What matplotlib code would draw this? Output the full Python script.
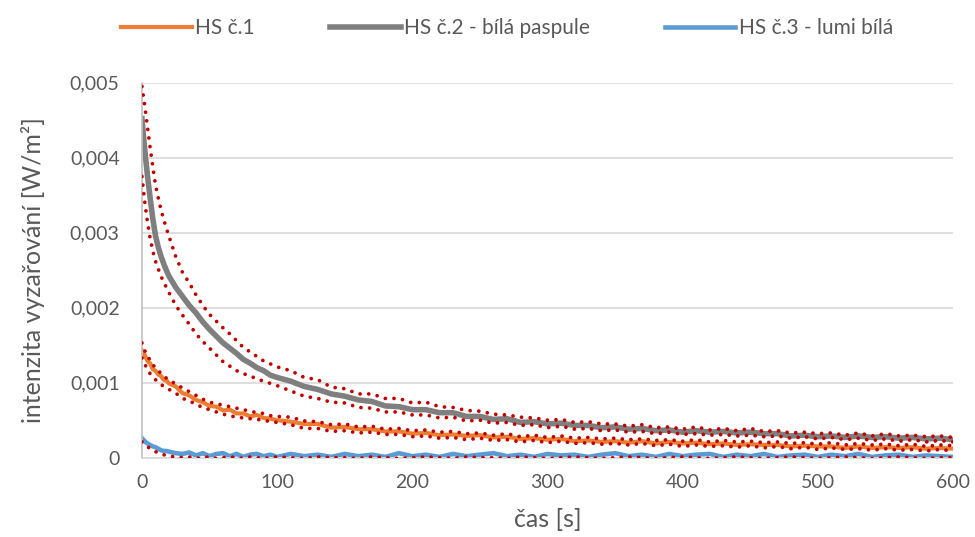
import numpy as np
import matplotlib.pyplot as plt
from matplotlib.ticker import FuncFormatter

plt.rcParams['font.family'] = ['Lato', 'DejaVu Sans']

# time [s]
t = [0, 2, 4, 6, 8, 10, 12, 14, 16, 18, 20, 25, 30, 35, 40, 45, 50, 55, 60, 65, 70, 75, 80, 85, 90, 95, 100,
     110, 120, 130, 140, 150, 160, 170, 180, 190, 200, 210, 220, 230, 240, 250, 260, 270, 280, 290, 300,
     310, 320, 330, 340, 350, 360, 370, 380, 390, 400, 410, 420, 430, 440, 450, 460, 470, 480, 490, 500,
     510, 520, 530, 540, 550, 560, 570, 580, 590, 600]

# values in mW/m2 (converted to W/m2 below)
hs1 = [1.43, 1.37, 1.29, 1.26, 1.18, 1.16, 1.11, 1.09, 1.04, 1.03, 0.99, 0.95, 0.86, 0.83, 0.77, 0.74, 0.69, 0.68, 0.63, 0.64, 0.59, 0.59, 0.55, 0.57, 0.53, 0.52, 0.50,
       0.48, 0.45, 0.45, 0.40, 0.41, 0.38, 0.38, 0.35, 0.35, 0.32, 0.33, 0.30, 0.31, 0.29, 0.30, 0.27, 0.28, 0.25, 0.26, 0.24,
       0.25, 0.22, 0.23, 0.21, 0.22, 0.20, 0.22, 0.19, 0.21, 0.19, 0.20, 0.18, 0.19, 0.17, 0.18, 0.17, 0.17, 0.15, 0.16, 0.15,
       0.15, 0.13, 0.15, 0.13, 0.14, 0.13, 0.14, 0.12, 0.13, 0.12]
hs2 = [4.52, 4.12, 3.77, 3.47, 3.19, 2.96, 2.81, 2.69, 2.59, 2.50, 2.42, 2.27, 2.15, 2.03, 1.93, 1.81, 1.71, 1.62, 1.53, 1.46, 1.39, 1.31, 1.26, 1.20, 1.16, 1.10, 1.07,
       1.02, 0.95, 0.91, 0.85, 0.82, 0.77, 0.75, 0.69, 0.68, 0.64, 0.64, 0.60, 0.60, 0.55, 0.55, 0.51, 0.52, 0.47, 0.48, 0.45,
       0.46, 0.43, 0.43, 0.40, 0.41, 0.38, 0.39, 0.36, 0.37, 0.34, 0.36, 0.34, 0.35, 0.33, 0.34, 0.32, 0.32, 0.29, 0.30, 0.28,
       0.29, 0.27, 0.29, 0.27, 0.28, 0.26, 0.27, 0.25, 0.26, 0.24]
hs3 = [0.26, 0.22, 0.19, 0.17, 0.15, 0.14, 0.12, 0.10, 0.09, 0.09, 0.08, 0.06, 0.05, 0.07, 0.03, 0.06, 0.02, 0.05, 0.06, 0.02, 0.05, 0.01, 0.04, 0.05, 0.02, 0.04, 0.01,
       0.05, 0.02, 0.04, 0.01, 0.05, 0.02, 0.04, 0.01, 0.06, 0.02, 0.04, 0.01, 0.05, 0.02, 0.04, 0.06, 0.02, 0.04, 0.01, 0.05,
       0.03, 0.04, 0.01, 0.04, 0.06, 0.02, 0.04, 0.01, 0.05, 0.02, 0.04, 0.05, 0.01, 0.04, 0.02, 0.05, 0.01, 0.03, 0.04, 0.01,
       0.04, 0.02, 0.05, 0.01, 0.03, 0.04, 0.01, 0.03, 0.02, 0.01]

# red dotted bounds
hs1_hi = [1.53, 1.43, 1.36, 1.30, 1.24, 1.20, 1.17, 1.12, 1.10, 1.06, 1.04, 0.98, 0.93, 0.88, 0.83, 0.78, 0.74, 0.72, 0.70, 0.68, 0.66, 0.64, 0.62, 0.60, 0.59, 0.56, 0.55,
          0.54, 0.49, 0.48, 0.44, 0.45, 0.41, 0.42, 0.38, 0.39, 0.36, 0.37, 0.34, 0.35, 0.32, 0.33, 0.30, 0.32, 0.28, 0.30, 0.27,
          0.29, 0.26, 0.27, 0.25, 0.26, 0.24, 0.25, 0.23, 0.24, 0.22, 0.24, 0.21, 0.23, 0.21, 0.22, 0.20, 0.21, 0.19, 0.20, 0.18,
          0.20, 0.17, 0.19, 0.17, 0.18, 0.16, 0.18, 0.15, 0.17, 0.16]
hs1_lo = [1.33, 1.25, 1.18, 1.12, 1.08, 1.04, 1.01, 0.98, 0.95, 0.93, 0.91, 0.86, 0.79, 0.76, 0.71, 0.67, 0.64, 0.61, 0.58, 0.56, 0.54, 0.53, 0.52, 0.51, 0.50, 0.48, 0.47,
          0.44, 0.39, 0.39, 0.35, 0.36, 0.33, 0.34, 0.31, 0.31, 0.28, 0.29, 0.26, 0.27, 0.24, 0.26, 0.23, 0.24, 0.21, 0.23, 0.20,
          0.22, 0.19, 0.20, 0.18, 0.19, 0.17, 0.19, 0.16, 0.18, 0.15, 0.17, 0.15, 0.16, 0.14, 0.16, 0.13, 0.15, 0.12, 0.14, 0.11,
          0.13, 0.11, 0.12, 0.10, 0.12, 0.10, 0.11, 0.09, 0.11, 0.09]
hs2_hi = [4.95, 4.70, 4.42, 4.14, 3.88, 3.64, 3.47, 3.31, 3.18, 3.06, 2.95, 2.68, 2.47, 2.33, 2.17, 2.03, 1.91, 1.82, 1.73, 1.65, 1.56, 1.47, 1.41, 1.35, 1.29, 1.25, 1.21,
          1.16, 1.07, 1.04, 0.94, 0.92, 0.85, 0.85, 0.79, 0.79, 0.73, 0.74, 0.68, 0.67, 0.63, 0.62, 0.58, 0.57, 0.54, 0.53, 0.50,
          0.51, 0.47, 0.48, 0.45, 0.45, 0.42, 0.44, 0.40, 0.41, 0.38, 0.41, 0.37, 0.39, 0.36, 0.39, 0.35, 0.36, 0.33, 0.34, 0.32,
          0.33, 0.30, 0.33, 0.29, 0.32, 0.29, 0.30, 0.28, 0.29, 0.27]
hs2_lo = [3.75, 3.42, 3.15, 2.93, 2.76, 2.62, 2.52, 2.42, 2.35, 2.27, 2.20, 2.03, 1.90, 1.78, 1.65, 1.55, 1.46, 1.37, 1.28, 1.22, 1.16, 1.12, 1.09, 1.05, 1.02, 0.99, 0.96,
          0.89, 0.82, 0.79, 0.74, 0.73, 0.67, 0.66, 0.61, 0.61, 0.57, 0.57, 0.53, 0.54, 0.49, 0.50, 0.46, 0.47, 0.43, 0.44, 0.40,
          0.42, 0.38, 0.39, 0.36, 0.37, 0.34, 0.35, 0.32, 0.34, 0.31, 0.32, 0.30, 0.31, 0.29, 0.30, 0.28, 0.29, 0.26, 0.28, 0.25,
          0.27, 0.24, 0.26, 0.23, 0.25, 0.22, 0.24, 0.21, 0.23, 0.21]
hs3_lo = [0.21, 0.18, 0.15, 0.12, 0.10, 0.08, 0.07, 0.05, 0.04, 0.03, 0.02, 0.01, 0.00, 0.01, -0.01, 0.00, 0.01, -0.01, 0.00, 0.01, 0.00, -0.01, 0.01, 0.00, -0.01, 0.00, 0.01,
          0.00, -0.01, 0.01, 0.00, 0.00, -0.01, 0.01, 0.00, -0.01, 0.00, 0.01, 0.00, -0.01, 0.01, 0.00, 0.00, -0.01, 0.01, 0.00, -0.01,
          0.00, 0.01, 0.00, -0.01, 0.00, 0.01, 0.00, -0.01, 0.00, 0.01, 0.00, -0.01, 0.00, 0.01, 0.00, -0.01, 0.00, 0.01, 0.00, -0.01,
          0.00, 0.01, 0.00, -0.01, 0.00, 0.01, 0.00, -0.01, 0.00, 0.00]

labels = ['HS č.1', 'HS č.2 - bílá paspule', 'HS č.3 - lumi bílá']
colors = ['#ED7D31', '#7F7F7F', '#5B9BD5']
widths = [3.0, 4.0, 3.3]

mw = 1e-3
fig = plt.figure(figsize=(9.75, 5.37), dpi=100)
ax = fig.add_axes([0.1456, 0.1477, 0.832, 0.6983])

for vals, lab, c, lw in zip([hs1, hs2, hs3], labels, colors, widths):
    ax.plot(t, np.array(vals) * mw, color=c, lw=lw, label=lab, solid_joinstyle='round', zorder=2)

for vals in [hs1_hi, hs1_lo, hs2_hi, hs2_lo, hs3_lo]:
    ax.plot(t, np.array(vals) * mw, color='#C00000', lw=2.7, dashes=[0.01, 2.3],
            dash_capstyle='round', zorder=3)

ax.set_xlim(0, 600)
ax.set_ylim(0, 0.005)
ax.set_xticks(range(0, 601, 100))
ax.set_yticks([0, 0.001, 0.002, 0.003, 0.004, 0.005])
ax.yaxis.set_major_formatter(FuncFormatter(lambda v, p: '0' if v == 0 else f'{v:.3f}'.replace('.', ',')))
ax.grid(axis='y', color='#D9D9D9', lw=1.2)
ax.set_axisbelow(True)
ax.tick_params(length=0, labelsize=14, colors='#595959')
ax.tick_params(axis='y', pad=16)
ax.tick_params(axis='x', pad=12)
for s in ['top', 'right']:
    ax.spines[s].set_visible(False)
ax.spines['left'].set_color('#BFBFBF')
ax.spines['bottom'].set_color('#D9D9D9')
ax.spines['left'].set_linewidth(1.2)
ax.spines['bottom'].set_linewidth(1.2)

ax.set_xlabel('čas [s]', fontsize=18, color='#595959', labelpad=12)
ax.set_ylabel('intenzita vyzařování [W/m²]', fontsize=18, color='#595959', labelpad=18)

fig.legend(loc='center', bbox_to_anchor=(0.52, 0.948), ncol=3, frameon=False,
           fontsize=15, labelcolor='#595959', handlelength=3.4, handletextpad=0.15, columnspacing=3.6)

fig.savefig('out.png', dpi=100)
